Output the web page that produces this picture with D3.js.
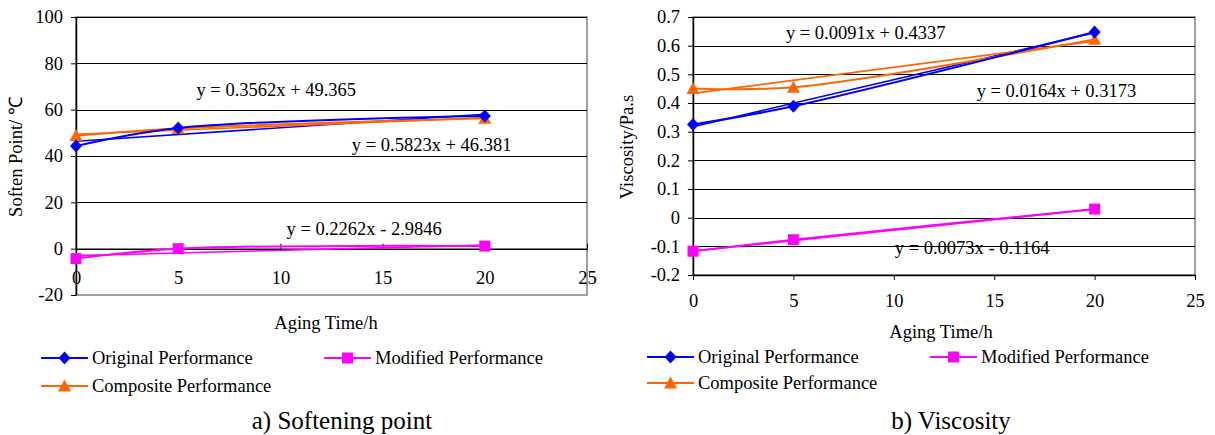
<!DOCTYPE html>
<html>
<head>
<meta charset="utf-8">
<script src="https://cdn.jsdelivr.net/npm/d3@7"></script>
<style>
  body { margin: 0; background: #fff; }
  text { font-family: "Liberation Serif", "Times New Roman", serif; fill: #000; }
</style>
</head>
<body>
<svg id="figura" width="1215" height="435"></svg>
<script>
// Dados
var agingHours = [0, 5, 20];
var seriesNames = ['Original Performance', 'Modified Performance', 'Composite Performance'];

var softOriginal = [44.3, 52.1, 57.3];
var softModified = [-4.3, 0.0, 1.1];
var softComposite = [48.8, 51.9, 56.3];
var softSlopes = [0.5823, 0.2262, 0.3562];
var softIntercepts = [46.381, -2.9846, 49.365];
var softEquations = ['y = 0.5823x + 46.381', 'y = 0.2262x - 2.9846', 'y = 0.3562x + 49.365'];

var viscOriginal = [0.325, 0.389, 0.648];
var viscModified = [-0.117, -0.077, 0.030];
var viscComposite = [0.451, 0.455, 0.622];
var viscSlopes = [0.0164, 0.0073, 0.0091];
var viscIntercepts = [0.3173, -0.1164, 0.4337];
var viscEquations = ['y = 0.0164x + 0.3173', 'y = 0.0073x - 0.1164', 'y = 0.0091x + 0.4337'];

var xTicks = [0, 5, 10, 15, 20, 25];
var softTicks = [-20, 0, 20, 40, 60, 80, 100];
var viscTicks = [-0.2, -0.1, 0, 0.1, 0.2, 0.3, 0.4, 0.5, 0.6, 0.7];

var colors = ['#0000ff', '#ff00ff', '#ff6600'];
var markers = ['diamond', 'square', 'triangle'];
var fonte = '18.5px';

// Desenha um marcador centrado em (0,0)
function markerPath(kind) {
  if (kind === 'diamond') return 'M0,-6.5L6,0L0,6.5L-6,0Z';
  if (kind === 'square') return 'M-5.5,-5.5H5.5V5.5H-5.5Z';
  return 'M0,-6.5L6.5,5.5H-6.5Z';
}

function LineChart(p) {
  var svg = d3.select('#figura');
  var g = svg.append('g');

  var x = d3.scaleLinear().domain([0, 25]).range([p.left, p.right]);
  var y = d3.scaleLinear().domain(p.yDomain).range([p.bottom, p.top]);
  var fmtY = function(d) { return p.format(d).replace('\u2212', '-'); };
  var fmtX = d3.format('d');

  // Moldura da área de plotagem
  g.append('rect')
   .attr('x', p.left).attr('y', p.top)
   .attr('width', p.right - p.left).attr('height', p.bottom - p.top)
   .attr('fill', 'none').attr('stroke', '#808080').attr('stroke-width', 1.5);

  // Linhas de grade
  g.selectAll('.grade')
   .data(p.yTicks.filter(function(d) { return d !== p.yDomain[0]; }))
   .enter().append('line')
   .attr('x1', p.left).attr('x2', p.right)
   .attr('y1', function(d) { return Math.round(y(d)) + 0.5; })
   .attr('y2', function(d) { return Math.round(y(d)) + 0.5; })
   .attr('stroke', '#000').attr('stroke-width', 1.2);

  // Eixo Y
  var eixoY = g.append('g')
   .attr('transform', 'translate(' + p.left + ',0)')
   .call(d3.axisLeft(y).tickValues(p.yTicks).tickFormat(fmtY).tickSizeInner(5).tickSizeOuter(0).tickPadding(8));
  eixoY.select('.domain').attr('stroke', '#000').attr('stroke-width', 1.5);
  eixoY.selectAll('text').style('font-size', fonte).style('font-family', '"Liberation Serif", serif');

  // Eixo X
  var eixoX = g.append('g')
   .attr('transform', 'translate(0,' + y(p.xAxisAt) + ')')
   .call(d3.axisBottom(x).tickValues(xTicks).tickFormat(fmtX).tickSizeInner(p.xTickSize).tickSizeOuter(0).tickPadding(p.xTickPad));
  eixoX.select('.domain').attr('stroke', '#000').attr('stroke-width', 1.5);
  eixoX.selectAll('text').style('font-size', fonte).style('font-family', '"Liberation Serif", serif');

  // Linhas de tendência
  var series = p.series;
  series.forEach(function(s, i) {
    g.append('line')
     .attr('x1', x(0)).attr('y1', y(p.intercepts[i]))
     .attr('x2', x(20)).attr('y2', y(p.intercepts[i] + p.slopes[i] * 20))
     .attr('stroke', colors[i]).attr('stroke-width', 1.6);
  });

  // Séries de dados (linhas suavizadas)
  var linha = d3.line()
    .x(function(d) { return x(d[0]); })
    .y(function(d) { return y(d[1]); })
    .curve(d3.curveCatmullRom.alpha(0.5));
  p.order.forEach(function(i) {
    var pts = agingHours.map(function(h, k) { return [h, series[i][k]]; });
    g.append('path').attr('d', linha(pts))
     .attr('fill', 'none').attr('stroke', colors[i]).attr('stroke-width', 2);
    g.selectAll(null).data(pts).enter().append('path')
     .attr('d', markerPath(markers[i]))
     .attr('transform', function(d) { return 'translate(' + x(d[0]) + ',' + y(d[1]) + ')'; })
     .attr('fill', colors[i]);
  });

  // Equações
  p.equations.forEach(function(txt, i) {
    g.append('text')
     .attr('x', x(p.eqPos[i][0])).attr('y', y(p.eqPos[i][1]))
     .attr('dy', '0.35em').attr('text-anchor', 'middle')
     .style('font-size', fonte).text(txt);
  });

  // Títulos dos eixos
  g.append('text')
   .attr('transform', 'translate(' + p.yTitlePos[0] + ',' + p.yTitlePos[1] + ') rotate(-90)')
   .attr('text-anchor', 'middle').attr('dy', '0.35em')
   .style('font-size', fonte).text(p.yTitle);
  g.append('text')
   .attr('x', p.xTitlePos[0]).attr('y', p.xTitlePos[1])
   .attr('text-anchor', 'middle').attr('dy', '0.35em')
   .style('font-size', fonte).text('Aging Time/h');

  // Legenda
  var lx = p.legend;
  var spots = [[lx[0], lx[1]], [lx[2], lx[1]], [lx[0], lx[3]]];
  seriesNames.forEach(function(nome, i) {
    var s = spots[i];
    g.append('line')
     .attr('x1', s[0]).attr('x2', s[0] + 47).attr('y1', s[1]).attr('y2', s[1])
     .attr('stroke', colors[i]).attr('stroke-width', 2);
    g.append('path').attr('d', markerPath(markers[i]))
     .attr('transform', 'translate(' + (s[0] + 23.5) + ',' + s[1] + ')')
     .attr('fill', colors[i]);
    g.append('text')
     .attr('x', s[0] + 51).attr('y', s[1]).attr('dy', '0.35em')
     .style('font-size', fonte).text(nome);
  });

  // Legenda da figura
  g.append('text')
   .attr('x', p.caption[0]).attr('y', p.caption[1])
   .attr('text-anchor', 'middle').attr('dy', '0.35em')
   .style('font-size', '25px').text(p.captionText);
}

new LineChart({
  left: 76, right: 587, top: 17, bottom: 295,
  yDomain: [-20, 100], yTicks: softTicks, xAxisAt: 0,
  xTickSize: -5, xTickPad: 22,
  format: d3.format('d'),
  series: [softOriginal, softModified, softComposite],
  order: [1, 2, 0],
  slopes: softSlopes, intercepts: softIntercepts,
  equations: softEquations,
  eqPos: [[17.4, 45], [14.1, 8.7], [9.8, 68.8]],
  yTitle: 'Soften Point/ \u2103', yTitlePos: [16, 157],
  xTitlePos: [326, 323],
  legend: [41, 358, 324, 386],
  caption: [342, 420], captionText: 'a) Softening point'
});

new LineChart({
  left: 693, right: 1195, top: 17, bottom: 275,
  yDomain: [-0.2, 0.7], yTicks: viscTicks, xAxisAt: -0.2,
  xTickSize: 5, xTickPad: 14,
  format: function(d) { return Math.abs(d) < 1e-9 ? '0' : d3.format('.1f')(d); },
  series: [viscOriginal, viscModified, viscComposite],
  order: [1, 2, 0],
  slopes: viscSlopes, intercepts: viscIntercepts,
  equations: viscEquations,
  eqPos: [[18.1, 0.444], [13.9, -0.103], [8.6, 0.646]],
  yTitle: 'Viscosity/Pa.s', yTitlePos: [627, 147],
  xTitlePos: [941, 332],
  legend: [647, 357, 930, 383],
  caption: [951, 420], captionText: 'b) Viscosity'
});
</script>
</body>
</html>
